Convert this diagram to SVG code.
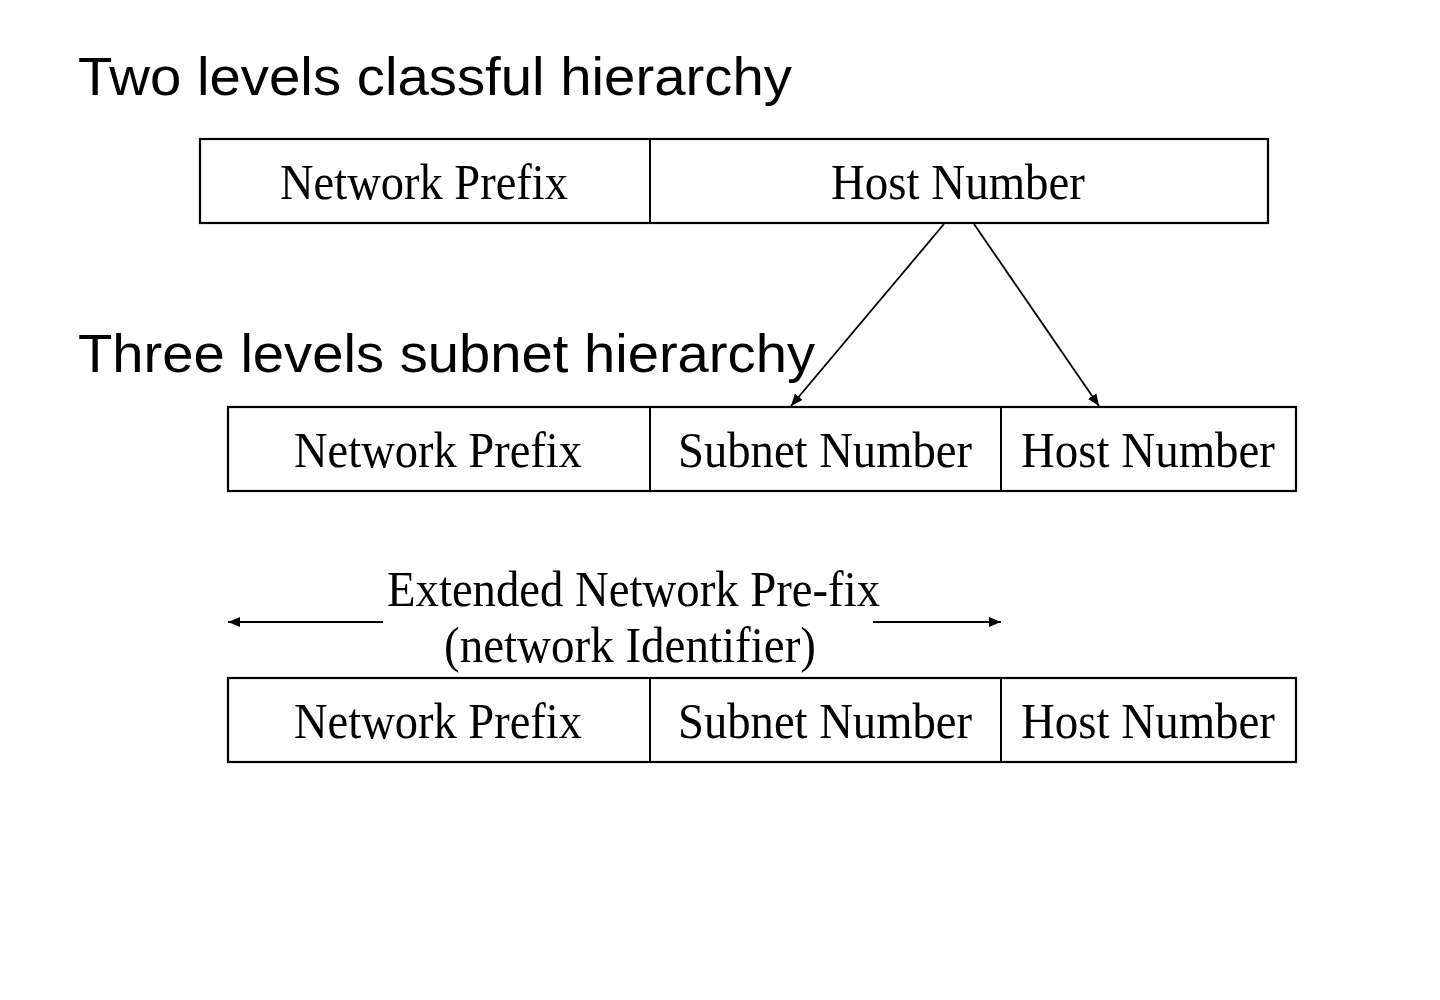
<svg xmlns="http://www.w3.org/2000/svg" width="1440" height="1000" viewBox="0 0 1440 1000">
<style>
.box{fill:#fff;stroke:#000;stroke-width:2.2}
.div{stroke:#000;stroke-width:2}
.t{font-family:"Liberation Serif","Times New Roman",serif;font-size:50px;fill:#000}
.h{font-family:"Liberation Sans",Arial,Helvetica,sans-serif;font-size:54px;fill:#000}
.c{stroke:#000;stroke-width:1.8;fill:none}
</style>
<defs>
<marker id="ah" viewBox="0 0 12 10" refX="12" refY="5" markerWidth="12" markerHeight="10" markerUnits="userSpaceOnUse" orient="auto">
<path d="M0,0 L12,5 L0,10 z" fill="#000"/>
</marker>
</defs>
<rect width="1440" height="1000" fill="#fff"/>
<text class="h" x="78" y="95" textLength="714" lengthAdjust="spacingAndGlyphs">Two levels classful hierarchy</text>
<text class="h" x="78" y="372" textLength="737" lengthAdjust="spacingAndGlyphs">Three levels subnet hierarchy</text>

<g id="row1">
<rect class="box" x="200" y="139" width="1068" height="84"/>
<line class="div" x1="650" y1="139" x2="650" y2="223"/>
<text class="t" x="280" y="199" textLength="288" lengthAdjust="spacingAndGlyphs">Network Prefix</text>
<text class="t" x="831" y="199" textLength="254" lengthAdjust="spacingAndGlyphs">Host Number</text>
</g>

<g id="row2">
<rect class="box" x="228" y="407" width="1068" height="84"/>
<line class="div" x1="650" y1="407" x2="650" y2="491"/>
<line class="div" x1="1001" y1="407" x2="1001" y2="491"/>
<text class="t" x="294" y="467" textLength="288" lengthAdjust="spacingAndGlyphs">Network Prefix</text>
<text class="t" x="678" y="467" textLength="294" lengthAdjust="spacingAndGlyphs">Subnet Number</text>
<text class="t" x="1021" y="467" textLength="254" lengthAdjust="spacingAndGlyphs">Host Number</text>
</g>

<g id="label">
<text class="t" x="387" y="606" textLength="493" lengthAdjust="spacingAndGlyphs">Extended Network Pre-fix</text>
<text class="t" x="444" y="662" textLength="372" lengthAdjust="spacingAndGlyphs">(network Identifier)</text>
</g>

<g id="row3">
<rect class="box" x="228" y="678" width="1068" height="84"/>
<line class="div" x1="650" y1="678" x2="650" y2="762"/>
<line class="div" x1="1001" y1="678" x2="1001" y2="762"/>
<text class="t" x="294" y="738" textLength="288" lengthAdjust="spacingAndGlyphs">Network Prefix</text>
<text class="t" x="678" y="738" textLength="294" lengthAdjust="spacingAndGlyphs">Subnet Number</text>
<text class="t" x="1021" y="738" textLength="254" lengthAdjust="spacingAndGlyphs">Host Number</text>
</g>

<g id="connectors">
<line class="c" x1="944" y1="224" x2="791" y2="406" marker-end="url(#ah)"/>
<line class="c" x1="974" y1="224" x2="1099" y2="406" marker-end="url(#ah)"/>
<line class="c" x1="383" y1="622" x2="228" y2="622" marker-end="url(#ah)"/>
<line class="c" x1="873" y1="622" x2="1001" y2="622" marker-end="url(#ah)"/>
</g>
</svg>
